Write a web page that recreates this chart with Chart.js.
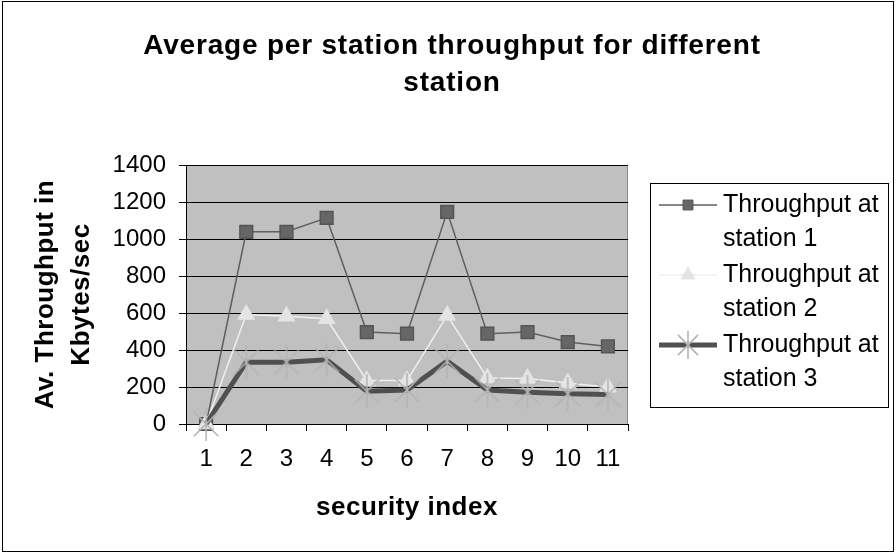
<!DOCTYPE html>
<html>
<head>
<meta charset="utf-8">
<script src="https://cdn.jsdelivr.net/npm/chart.js@4"></script>
<style>
  html,body{margin:0;padding:0;background:#fff;}
  #wrap{width:896px;height:554px;position:relative;}
</style>
</head>
<body>
<div id="wrap"><canvas id="c" width="896" height="554"></canvas></div>
<script>
const categories = ['1','2','3','4','5','6','7','8','9','10','11'];
const station1 = [0, 1039, 1039, 1114, 497, 488, 1147, 488, 497, 443, 419];
const station2 = [0, 592, 582, 569, 235, 235, 587, 249, 246, 222, 199];
const station3 = [0, 334, 334, 347, 177, 184, 340, 184, 172, 163, 159];
const seriesNames = [['Throughput at','station 1'], ['Throughput at','station 2'], ['Throughput at','station 3']];
const yTicks = [0, 200, 400, 600, 800, 1000, 1200, 1400];
const titleLines = ['Average per station throughput for different', 'station'];
const yTitleLines = ['Av. Throughput in', 'Kbytes/sec'];
const xTitle = 'security index';

const FONT = "'Liberation Sans', Arial, sans-serif";

// asterisk marker like the spreadsheet "star"
function makeStar(size){
  const cv = document.createElement('canvas');
  cv.width = size; cv.height = size;
  const g = cv.getContext('2d');
  const m = size/2, d = size*0.36;
  g.strokeStyle = '#b4b4b4'; g.lineWidth = 1.6;
  g.beginPath();
  g.moveTo(m-d,m-d); g.lineTo(m+d,m+d);
  g.moveTo(m+d,m-d); g.lineTo(m-d,m+d);
  g.moveTo(m,0); g.lineTo(m,size);
  g.stroke();
  return cv;
}
const starImg = makeStar(34);
const starLegend = makeStar(28);

const decor = {
  id:'decor',
  beforeDraw(chart){
    const {ctx, chartArea:a} = chart;
    ctx.save();
    ctx.fillStyle = '#fff';
    ctx.fillRect(0,0,chart.width,chart.height);
    ctx.fillStyle = '#c0c0c0';
    ctx.fillRect(a.left, a.top, a.right-a.left, a.bottom-a.top);
    ctx.strokeStyle = '#888'; ctx.lineWidth = 1;
    ctx.beginPath();
    ctx.moveTo(a.left, a.top+0.5); ctx.lineTo(a.right-0.5, a.top+0.5); ctx.lineTo(a.right-0.5, a.bottom);
    ctx.stroke();
    ctx.restore();
  },
  afterDraw(chart){
    const {ctx, chartArea:a} = chart;
    ctx.save();
    // outer frame
    ctx.strokeStyle = '#000'; ctx.lineWidth = 1;
    ctx.strokeRect(2.5, 1.5, 891, 550);

    // titles
    ctx.fillStyle = '#000';
    ctx.textAlign = 'center'; ctx.textBaseline = 'middle';
    ctx.font = 'bold 28px ' + FONT;
    ctx.letterSpacing = '0.8px';
    titleLines.forEach((t, i) => ctx.fillText(t, 452, 46 + i*37));
    ctx.font = 'bold 26px ' + FONT;
    ctx.letterSpacing = '0.5px';
    ctx.fillText(xTitle, (a.left + a.right)/2, 508);
    ctx.save();
    ctx.translate(0, (a.top + a.bottom)/2);
    ctx.rotate(-Math.PI/2);
    yTitleLines.forEach((t, i) => ctx.fillText(t, 0, 46 + i*36));
    ctx.restore();
    ctx.letterSpacing = '0px';

    // legend
    const bx = 650.5, by = 183.5, bw = 238, bh = 224;
    ctx.fillStyle = '#fff';
    ctx.fillRect(bx, by, bw, bh);
    ctx.strokeRect(bx, by, bw, bh);
    chart.data.datasets.forEach((ds, i) => {
      const y = 205 + i*70;
      ctx.strokeStyle = ds.borderColor; ctx.lineWidth = ds.borderWidth;
      ctx.beginPath(); ctx.moveTo(659, y); ctx.lineTo(717, y); ctx.stroke();
      ctx.fillStyle = ds.pointBackgroundColor; ctx.strokeStyle = ds.pointBorderColor; ctx.lineWidth = 1;
      const ps = ds.pointStyle === starImg ? starLegend : ds.pointStyle;
      const r = ds.pointStyle === 'rect' ? 7 : 8;
      Chart.helpers.drawPoint(ctx, {pointStyle: ps, radius: r, rotation: 0, borderWidth: 1}, 688, y);
      ctx.fillStyle = '#000'; ctx.font = '25px ' + FONT; ctx.textBaseline = 'middle'; ctx.textAlign = 'left';
      seriesNames[i].forEach((t, k) => ctx.fillText(t, 723, y + k*34));
    });
    ctx.restore();
  }
};

new Chart(document.getElementById('c'), {
  type: 'line',
  data: {
    labels: categories,
    datasets: [
      { data: station1, borderColor:'#5f5f5f', borderWidth:1.5, pointStyle:'rect', pointRadius:9,
        pointBackgroundColor:'#666', pointBorderColor:'#555', order:3 },
      { data: station2, borderColor:'#f0f0f0', borderWidth:1.5, pointStyle:'triangle', pointRadius:9,
        pointBackgroundColor:'#e4e4e4', pointBorderColor:'#e4e4e4', order:2 },
      { data: station3, borderColor:'#505050', borderWidth:5, pointStyle:starImg, pointRadius:17,
        pointBackgroundColor:'#b4b4b4', pointBorderColor:'#b4b4b4', order:1 }
    ]
  },
  options: {
    responsive:false, animation:false, clip:false,
    layout:{ padding:{ left:0, right:268, top:165, bottom:0 } },
    elements:{ line:{ tension:0 } },
    plugins:{ legend:{ display:false }, tooltip:{ enabled:false }, title:{ display:false } },
    scales:{
      x:{
        offset:true,
        grid:{ offset:true, drawOnChartArea:false, color:'#000', tickLength:7 },
        border:{ color:'#000', width:1 },
        ticks:{ color:'#000', font:{ family:FONT, size:24 }, padding:14, maxRotation:0 },
        afterFit(s){ s.height = 130; }
      },
      y:{
        min:0, max:1400,
        afterBuildTicks(s){ s.ticks = yTicks.map(v => ({value:v})); },
        grid:{ color:'#000', tickLength:7 },
        border:{ color:'#000', width:1 },
        ticks:{ color:'#000', font:{ family:FONT, size:24 }, padding:13, callback:v => String(v) },
        afterFit(s){ s.width = 186; }
      }
    }
  },
  plugins:[decor]
});
</script>
</body>
</html>
